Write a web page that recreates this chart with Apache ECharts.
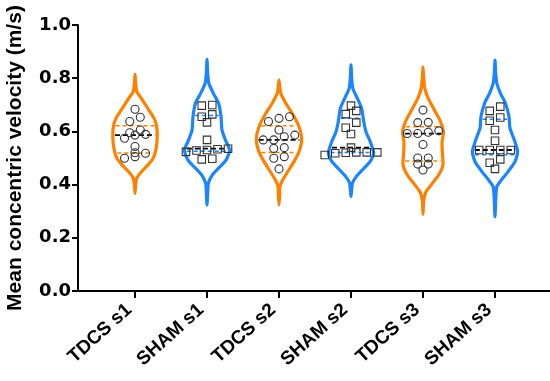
<!DOCTYPE html>
<html><head><meta charset="utf-8">
<script src="https://cdn.jsdelivr.net/npm/echarts@6/dist/echarts.min.js"></script>
<style>html,body{margin:0;padding:0;background:#fff}#c{width:550px;height:381px}</style>
</head><body><div id="c"></div>
<script>
// ---------- data ----------
const categories = ['TDCS s1', 'SHAM s1', 'TDCS s2', 'SHAM s2', 'TDCS s3', 'SHAM s3'];
const yTickValues = [0, 0.2, 0.4, 0.6, 0.8, 1.0];

const tdcsS1 = [0.683, 0.653, 0.637, 0.605, 0.586, 0.595, 0.574, 0.589, 0.543, 0.520, 0.499, 0.505, 0.518];
const shamS1 = [0.697, 0.699, 0.655, 0.664, 0.634, 0.568, 0.530, 0.533, 0.523, 0.535, 0.528, 0.495, 0.497];
const tdcsS2 = [0.655, 0.649, 0.637, 0.605, 0.586, 0.580, 0.568, 0.568, 0.539, 0.536, 0.505, 0.499, 0.459];
const shamS2 = [0.697, 0.677, 0.665, 0.633, 0.614, 0.590, 0.539, 0.518, 0.521, 0.520, 0.521, 0.511, 0.521];
const tdcsS3 = [0.680, 0.633, 0.634, 0.592, 0.592, 0.597, 0.602, 0.551, 0.500, 0.500, 0.477, 0.477, 0.455];
const shamS3 = [0.693, 0.677, 0.652, 0.640, 0.605, 0.565, 0.530, 0.530, 0.530, 0.530, 0.495, 0.482, 0.459];

// violin outlines: value levels and relative density (0..1)
const tdcsS1Levels  = [0.367, 0.400, 0.424, 0.448, 0.474, 0.499, 0.536, 0.580, 0.620, 0.649, 0.687, 0.724, 0.749, 0.780, 0.815];
const tdcsS1Density = [0, .03, .08, .28, .57, .80, .93, .98, .95, .84, .56, .28, .08, .03, 0];
const shamS1Levels  = [0.323, 0.370, 0.405, 0.436, 0.461, 0.492, 0.530, 0.568, 0.605, 0.655, 0.706, 0.743, 0.781, 0.820, 0.871];
const shamS1Density = [0, .03, .06, .23, .50, .84, 1, .81, .66, .62, .51, .28, .08, .03, 0];
const tdcsS2Levels  = [0.323, 0.360, 0.392, 0.417, 0.455, 0.492, 0.530, 0.574, 0.624, 0.668, 0.706, 0.743, 0.770, 0.793];
const tdcsS2Density = [0, .03, .04, .16, .43, .70, .91, 1, .85, .58, .30, .08, .03, 0];
const shamS2Levels  = [0.355, 0.380, 0.405, 0.430, 0.455, 0.486, 0.518, 0.561, 0.599, 0.637, 0.687, 0.724, 0.762, 0.800, 0.850];
const shamS2Density = [0, .03, .06, .23, .50, .84, 1, .85, .66, .56, .47, .28, .08, .03, 0];
const tdcsS3Levels  = [0.288, 0.340, 0.373, 0.398, 0.436, 0.474, 0.524, 0.561, 0.599, 0.643, 0.687, 0.724, 0.762, 0.800, 0.843];
const tdcsS3Density = [0, .03, .13, .35, .69, .88, .85, .84, .90, .74, .46, .23, .08, .03, 0];
const shamS3Levels  = [0.279, 0.340, 0.392, 0.417, 0.448, 0.486, 0.524, 0.568, 0.612, 0.655, 0.706, 0.743, 0.781, 0.820, 0.868];
const shamS3Density = [0, .03, .08, .28, .57, .88, 1, .85, .66, .62, .46, .24, .08, .03, 0];

// ---------- style ----------
const ORANGE = '#FF8000', BLUE = '#1A85FF';
const FONT = '"Liberation Sans", Arial, Helvetica, sans-serif';
const TICKFONT = '"DejaVu Sans", "Liberation Sans", sans-serif';
const VIOLIN_HALF = 0.315;   // max half width in category units
const ROW_STEP = 0.146;      // horizontal spacing of dots in category units
const ROW_THR = 0.02;        // values closer than this share a row

const groups = [
  {vals: tdcsS1, lv: tdcsS1Levels, d: tdcsS1Density, color: ORANGE, sym: 'circle'},
  {vals: shamS1, lv: shamS1Levels, d: shamS1Density, color: BLUE, sym: 'rect'},
  {vals: tdcsS2, lv: tdcsS2Levels, d: tdcsS2Density, color: ORANGE, sym: 'circle'},
  {vals: shamS2, lv: shamS2Levels, d: shamS2Density, color: BLUE, sym: 'rect'},
  {vals: tdcsS3, lv: tdcsS3Levels, d: tdcsS3Density, color: ORANGE, sym: 'circle'},
  {vals: shamS3, lv: shamS3Levels, d: shamS3Density, color: BLUE, sym: 'rect'}
];

function quantile(vals, p) {
  const s = vals.slice().sort((a, b) => a - b);
  const pos = (s.length + 1) * p;
  const lo = Math.floor(pos), f = pos - lo;
  if (lo < 1) return s[0];
  if (lo >= s.length) return s[s.length - 1];
  return s[lo - 1] + f * (s[lo] - s[lo - 1]);
}
function densityAt(g, v) {
  const lv = g.lv, d = g.d;
  for (let k = 0; k < lv.length - 1; k++) {
    if (v >= lv[k] && v <= lv[k + 1]) {
      const t = (v - lv[k]) / (lv[k + 1] - lv[k]);
      return d[k] + t * (d[k + 1] - d[k]);
    }
  }
  return 0;
}
function swarm(vals) {
  const idx = vals.map((v, k) => k).sort((a, b) => vals[a] - vals[b]);
  const off = new Array(vals.length);
  let start = 0;
  while (start < idx.length) {
    let end = start;
    while (end + 1 < idx.length && vals[idx[end + 1]] - vals[idx[start]] < ROW_THR) end++;
    const n = end - start + 1;
    for (let k = 0; k < n; k++) off[idx[start + k]] = (k - (n - 1) / 2) * ROW_STEP;
    start = end + 1;
  }
  return off;
}

function renderViolin(params, api) {
  const i = params.dataIndex;
  const g = groups[i];
  const pts = [];
  for (let k = 0; k < g.lv.length; k++) pts.push(api.coord([i - g.d[k] * VIOLIN_HALF, g.lv[k]]));
  for (let k = g.lv.length - 2; k >= 1; k--) pts.push(api.coord([i + g.d[k] * VIOLIN_HALF, g.lv[k]]));
  const children = [{
    type: 'polygon',
    shape: {points: pts, smooth: 0.2},
    style: {fill: 'none', stroke: g.color, lineWidth: 3.2, lineJoin: 'round'},
    z2: 1
  }];
  const lines = [
    {v: quantile(g.vals, 0.25), color: g.color, w: 1.5, dash: [4, 3]},
    {v: quantile(g.vals, 0.75), color: g.color, w: 1.5, dash: [4, 3]},
    {v: quantile(g.vals, 0.5), color: '#000', w: 1.8, dash: [5, 3]}
  ];
  lines.forEach(L => {
    const hw = densityAt(g, L.v) * VIOLIN_HALF;
    const a = api.coord([i - hw, L.v]);
    const b = api.coord([i + hw, L.v]);
    children.push({
      type: 'line',
      shape: {x1: a[0] + 2, y1: a[1], x2: b[0] - 2, y2: b[1]},
      style: {stroke: L.color, lineWidth: L.w, lineDash: L.dash},
      z2: 2
    });
  });
  return {type: 'group', children};
}

const scatterSeries = groups.map((g, i) => {
  const off = swarm(g.vals);
  return {
    type: 'scatter',
    symbol: g.sym,
    symbolSize: g.sym === 'circle' ? 8 : 7.5,
    z: 5,
    itemStyle: {color: 'rgba(255,255,255,0)', borderColor: '#333', borderWidth: 1.1, opacity: 1},
    emphasis: {disabled: true},
    data: g.vals.map((v, k) => [i + off[k], v])
  };
});

const chart = echarts.init(document.getElementById('c'), null, {renderer: 'canvas'});
chart.setOption({
  animation: false,
  backgroundColor: '#fff',
  grid: {left: 78, right: 0, top: 25, bottom: 90, containLabel: false, outerBoundsMode: 'none'},
  xAxis: {
    type: 'value',
    min: -0.792, max: 5.764,
    splitLine: {show: false},
    axisLine: {show: true, onZero: false, lineStyle: {color: '#000', width: 2}},
    axisTick: {show: true, length: 7, lineStyle: {color: '#000', width: 2}, customValues: categories.map((c, i) => i)},
    axisLabel: {
      show: true, rotate: 42, margin: 11,
      padding: [0, 8, 0, 0],
      fontFamily: FONT, fontWeight: 'bold', fontSize: 19, color: '#000',
      customValues: categories.map((c, i) => i),
      formatter: v => categories[Math.round(v)]
    }
  },
  yAxis: {
    type: 'value', min: 0, max: 1, interval: 0.2,
    name: 'Mean concentric velocity (m/s)',
    nameLocation: 'middle', nameGap: 52, nameRotate: 90,
    nameTextStyle: {fontFamily: FONT, fontWeight: 'bold', fontSize: 21, color: '#000'},
    splitLine: {show: false},
    axisLine: {show: true, onZero: false, lineStyle: {color: '#000', width: 2}},
    axisTick: {show: true, length: 6, lineStyle: {color: '#000', width: 2}},
    axisLabel: {
      fontFamily: TICKFONT, fontWeight: 'bold', fontSize: 18, color: '#000', margin: 7,
      formatter: v => yTickValues.includes(Math.round(v * 10) / 10) ? v.toFixed(1) : ''
    }
  },
  series: [{
    type: 'custom',
    renderItem: renderViolin,
    clip: false,
    z: 2,
    silent: true,
    encode: {x: 0, y: 1},
    data: categories.map((c, i) => [i, 0.5])
  }].concat(scatterSeries)
});
</script>
</body></html>
